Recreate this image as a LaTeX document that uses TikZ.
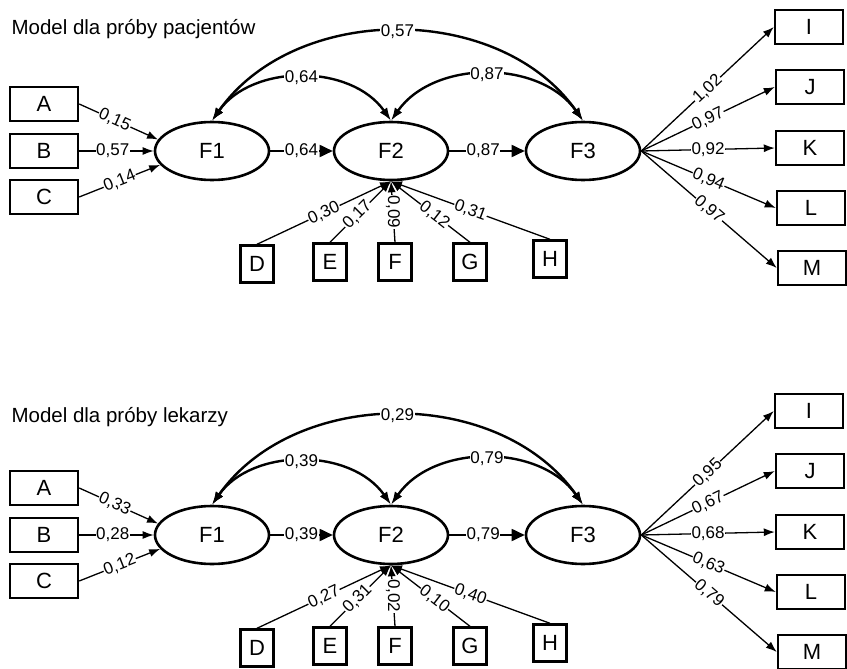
\documentclass[tikz,border=0pt]{standalone}
\usepackage{fontspec}
\setmainfont{Liberation Sans}
\usetikzlibrary{shapes.geometric,arrows.meta}

\tikzset{
  obs/.style={draw, line width=2.4pt, minimum width=68pt, minimum height=34pt, inner sep=0pt, font=\fontsize{22}{24}\selectfont},
  ind/.style={draw, line width=2.4pt, minimum width=33pt, minimum height=37pt, inner sep=0pt, font=\fontsize{22}{24}\selectfont},
  lat/.style={draw, ellipse, line width=2.6pt, minimum width=114pt, minimum height=58pt, inner sep=0pt, font=\fontsize{22}{24}\selectfont},
  wgt/.style={fill=white, inner sep=0.6pt, font=\fontsize{17}{19}\selectfont},
  ldg/.style={line width=1.3pt, -{Latex[length=11pt,width=8pt]}},
  reg/.style={line width=1.8pt, -{Triangle[length=13pt,width=12pt]}},
  cov/.style={line width=2.4pt, {Latex[length=13pt,width=9pt]}-{Latex[length=13pt,width=9pt]}},
  ttl/.style={anchor=west, font=\fontsize{20.5}{22}\selectfont}
}

\begin{document}
\begin{tikzpicture}[x=1pt,y=1pt]
        \useasboundingbox (0,0) rectangle (847,-669);
        % model dla pacjentow
        \node[ttl] (pTitle) at (8,-29) {Model dla próby pacjentów};
        \node[obs] (pA) at (44,-104) {A};
        \node[obs] (pB) at (44,-151) {B};
        \node[obs] (pC) at (44,-197) {C};
        \node[lat] (pF1) at (212,-151) {F1};
        \node[lat] (pF2) at (391,-151) {F2};
        \node[lat] (pF3) at (583,-151) {F3};
        \node[ind] (pD) at (257,-264) {D};
        \node[ind] (pE) at (330,-262) {E};
        \node[ind] (pF) at (395,-262) {F};
        \node[ind] (pG) at (470,-262) {G};
        \node[ind] (pH) at (550,-259) {H};
        \node[obs] (pI) at (809,-27) {I};
        \node[obs] (pJ) at (810,-87) {J};
        \node[obs] (pK) at (810,-148) {K};
        \node[obs] (pL) at (811,-208) {L};
        \node[obs] (pM) at (812,-268) {M};
        \draw[ldg] (pA.east) -- node[wgt,sloped,pos=.45] {0,15} (pF1.168);
        \draw[ldg] (pB) -- node[wgt,pos=.45] {0,57} (pF1);
        \draw[ldg] (pC.east) -- node[wgt,sloped] {0,14} (pF1.195);
        \draw[reg] (pF1) -- node[wgt] {0,64} (pF2);
        \draw[reg] (pF2) -- node[wgt,pos=.45] {0,87} (pF3);
        \draw[cov] (pF1.north) to[out=55,in=125] node[wgt] {0,64} (pF2.north);
        \draw[cov] (pF2.north) to[out=55,in=125] node[wgt] {0,87} (pF3.north);
        \draw[cov] (pF1.north) to[out=55,in=125] node[wgt] {0,57} (pF3.north);
        \draw[ldg] (pD.north) -- node[wgt,sloped] {0,30} (pF2.south);
        \draw[ldg] (pE.north) -- node[wgt,sloped,pos=.45] {0,17} (pF2.south);
        \draw[ldg] (pF.north) -- node[wgt,rotate=-90] {0,09} (pF2.south);
        \draw[ldg] (pG.north) -- node[wgt,sloped,pos=.45] {0,12} (pF2.south);
        \draw[ldg] (pH.north) -- node[wgt,sloped] {0,31} (pF2.south);
        \draw[ldg] (pF3.east) -- node[wgt,sloped] {1,02} (pI.west);
        \draw[ldg] (pF3.east) -- node[wgt,sloped] {0,97} (pJ.west);
        \draw[ldg] (pF3.east) -- node[wgt] {0,92} (pK.west);
        \draw[ldg] (pF3.east) -- node[wgt,sloped] {0,94} (pL.west);
        \draw[ldg] (pF3.east) -- node[wgt,sloped] {0,97} (pM.west);
        %
        % model dla lekarzy
        \node[ttl] (lTitle) at (8,-417) {Model dla próby lekarzy};
        \node[obs] (lA) at (44,-488) {A};
        \node[obs] (lB) at (44,-535) {B};
        \node[obs] (lC) at (44,-581) {C};
        \node[lat] (lF1) at (212,-535) {F1};
        \node[lat] (lF2) at (391,-535) {F2};
        \node[lat] (lF3) at (583,-535) {F3};
        \node[ind] (lD) at (257,-648) {D};
        \node[ind] (lE) at (330,-646) {E};
        \node[ind] (lF) at (395,-646) {F};
        \node[ind] (lG) at (470,-646) {G};
        \node[ind] (lH) at (550,-643) {H};
        \node[obs] (lI) at (809,-411) {I};
        \node[obs] (lJ) at (810,-471) {J};
        \node[obs] (lK) at (810,-532) {K};
        \node[obs] (lL) at (811,-592) {L};
        \node[obs] (lM) at (812,-652) {M};
        \draw[ldg] (lA.east) -- node[wgt,sloped,pos=.45] {0,33} (lF1.168);
        \draw[ldg] (lB) -- node[wgt,pos=.45] {0,28} (lF1);
        \draw[ldg] (lC.east) -- node[wgt,sloped] {0,12} (lF1.195);
        \draw[reg] (lF1) -- node[wgt] {0,39} (lF2);
        \draw[reg] (lF2) -- node[wgt,pos=.45] {0,79} (lF3);
        \draw[cov] (lF1.north) to[out=55,in=125] node[wgt] {0,39} (lF2.north);
        \draw[cov] (lF2.north) to[out=55,in=125] node[wgt] {0,79} (lF3.north);
        \draw[cov] (lF1.north) to[out=55,in=125] node[wgt] {0,29} (lF3.north);
        \draw[ldg] (lD.north) -- node[wgt,sloped] {0,27} (lF2.south);
        \draw[ldg] (lE.north) -- node[wgt,sloped,pos=.45] {0,31} (lF2.south);
        \draw[ldg] (lF.north) -- node[wgt,rotate=-90] {0,02} (lF2.south);
        \draw[ldg] (lG.north) -- node[wgt,sloped,pos=.45] {0,10} (lF2.south);
        \draw[ldg] (lH.north) -- node[wgt,sloped] {0,40} (lF2.south);
        \draw[ldg] (lF3.east) -- node[wgt,sloped] {0,95} (lI.west);
        \draw[ldg] (lF3.east) -- node[wgt,sloped] {0,67} (lJ.west);
        \draw[ldg] (lF3.east) -- node[wgt] {0,68} (lK.west);
        \draw[ldg] (lF3.east) -- node[wgt,sloped] {0,63} (lL.west);
        \draw[ldg] (lF3.east) -- node[wgt,sloped] {0,79} (lM.west);
\end{tikzpicture}
\end{document}
